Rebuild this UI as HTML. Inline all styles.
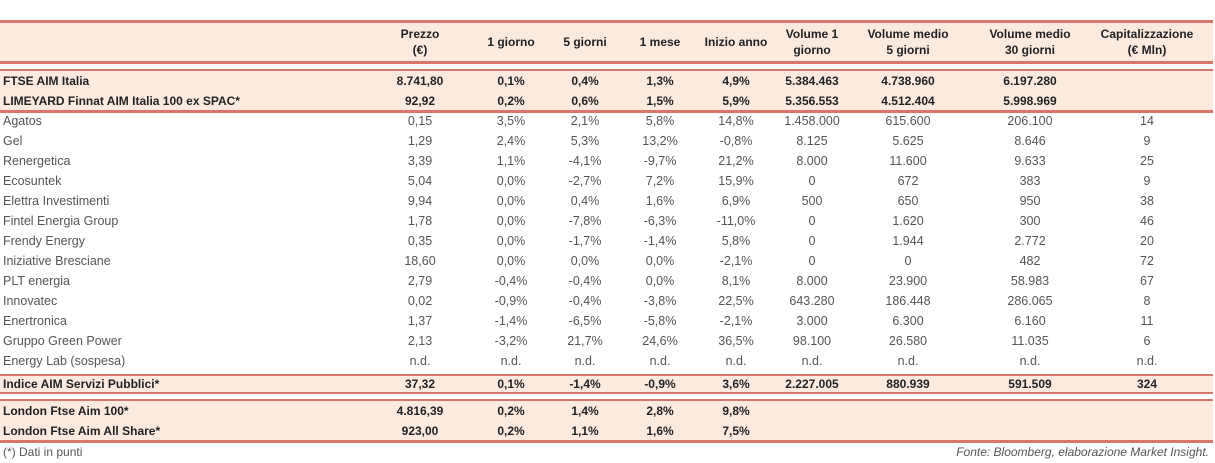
<!DOCTYPE html>
<html><head><meta charset="utf-8"><style>
body{margin:0;width:1215px;height:463px;background:#fff;position:relative;overflow:hidden;font-family:"Liberation Sans",sans-serif;}
.band{position:absolute;left:0;width:1213px;background:#fdeadf;}
.line{position:absolute;left:0;width:1213px;background:#d9766a;}
.t{position:absolute;font-size:12.5px;color:#555;white-space:nowrap;line-height:16px;}
.b{font-weight:bold;color:#222;font-size:12px;}
.h{position:absolute;font-size:12px;font-weight:bold;color:#222;text-align:center;line-height:16px;white-space:nowrap;}
</style></head><body>
<div class="band" style="top:21px;height:41px"></div>
<div class="line" style="top:20px;height:3px"></div>
<div class="line" style="top:61px;height:3px"></div>
<div class="band" style="top:70px;height:41px"></div>
<div class="line" style="top:69px;height:2px"></div>
<div class="line" style="top:110px;height:3px"></div>
<div class="band" style="top:375px;height:18px"></div>
<div class="line" style="top:374px;height:2px"></div>
<div class="line" style="top:392px;height:2px"></div>
<div class="band" style="top:400px;height:41px"></div>
<div class="line" style="top:399px;height:2px"></div>
<div class="line" style="top:440px;height:3px"></div>
<div id="root"></div>
<div class="t" style="left:3px;top:444px;font-size:12px">(*) Dati in punti</div>
<div class="t" style="right:6px;top:444px;font-size:12px;font-style:italic">Fonte: Bloomberg, elaborazione Market Insight.</div>
<script>
const headers=[["Prezzo","(€)"],["1 giorno"],["5 giorni"],["1 mese"],["Inizio anno"],["Volume 1","giorno"],["Volume medio","5 giorni"],["Volume medio","30 giorni"],["Capitalizzazione","(€ Mln)"]];
const colX=[420,511,585,660,736,812,908,1030,1147];
const rows=[
["FTSE AIM Italia","8.741,80","0,1%","0,4%","1,3%","4,9%","5.384.463","4.738.960","6.197.280",""],
["LIMEYARD Finnat AIM Italia 100 ex SPAC*","92,92","0,2%","0,6%","1,5%","5,9%","5.356.553","4.512.404","5.998.969",""],
["Agatos","0,15","3,5%","2,1%","5,8%","14,8%","1.458.000","615.600","206.100","14"],
["Gel","1,29","2,4%","5,3%","13,2%","-0,8%","8.125","5.625","8.646","9"],
["Renergetica","3,39","1,1%","-4,1%","-9,7%","21,2%","8.000","11.600","9.633","25"],
["Ecosuntek","5,04","0,0%","-2,7%","7,2%","15,9%","0","672","383","9"],
["Elettra Investimenti","9,94","0,0%","0,4%","1,6%","6,9%","500","650","950","38"],
["Fintel Energia Group","1,78","0,0%","-7,8%","-6,3%","-11,0%","0","1.620","300","46"],
["Frendy Energy","0,35","0,0%","-1,7%","-1,4%","5,8%","0","1.944","2.772","20"],
["Iniziative Bresciane","18,60","0,0%","0,0%","0,0%","-2,1%","0","0","482","72"],
["PLT energia","2,79","-0,4%","-0,4%","0,0%","8,1%","8.000","23.900","58.983","67"],
["Innovatec","0,02","-0,9%","-0,4%","-3,8%","22,5%","643.280","186.448","286.065","8"],
["Enertronica","1,37","-1,4%","-6,5%","-5,8%","-2,1%","3.000","6.300","6.160","11"],
["Gruppo Green Power","2,13","-3,2%","21,7%","24,6%","36,5%","98.100","26.580","11.035","6"],
["Energy Lab (sospesa)","n.d.","n.d.","n.d.","n.d.","n.d.","n.d.","n.d.","n.d.","n.d."],
["Indice AIM Servizi Pubblici*","37,32","0,1%","-1,4%","-0,9%","3,6%","2.227.005","880.939","591.509","324"],
["London Ftse Aim 100*","4.816,39","0,2%","1,4%","2,8%","9,8%","","","",""],
["London Ftse Aim All Share*","923,00","0,2%","1,1%","1,6%","7,5%","","","",""]];
const rowY=[73,93,113,133,153,173,193,213,233,253,273,293,313,333,353,376,403,423];
const bold=[1,1,0,0,0,0,0,0,0,0,0,0,0,0,0,1,1,1];
const root=document.getElementById('root');
headers.forEach((h,i)=>{
 const d=document.createElement('div');d.className='h';
 
 
 d.innerHTML=h.join('<br>');
 d.style.left=(colX[i]-70)+'px';d.style.width='140px';
 d.style.top=(h.length==2?26:34)+'px';
 root.appendChild(d);
});
rows.forEach((r,ri)=>{
 r.forEach((v,ci)=>{
  if(v==='')return;
  const d=document.createElement('div');d.className='t'+(bold[ri]?' b':'');
  
  
  d.textContent=v;d.style.top=rowY[ri]+'px';
  if(ci==0){d.style.left='3px';}
  else{d.style.left=(colX[ci-1]-60)+'px';d.style.width='120px';d.style.textAlign='center';}
  root.appendChild(d);
 });
});
</script>
</body></html>
